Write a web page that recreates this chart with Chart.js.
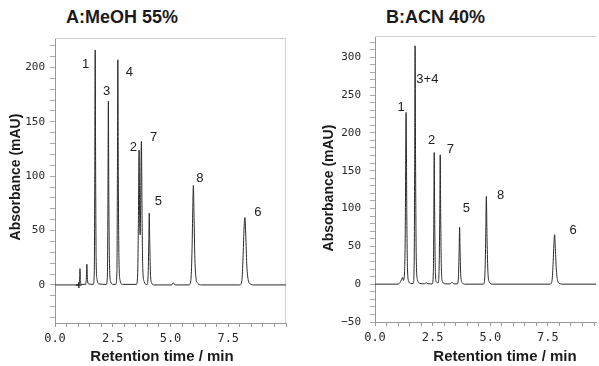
<!DOCTYPE html>
<html>
<head>
<meta charset="utf-8">
<script src="https://cdn.jsdelivr.net/npm/chart.js@4"></script>
<style>
  body { margin: 0; width: 599px; height: 366px; overflow: hidden; background: #fff; position: relative; }
  canvas { position: absolute; top: 0; }
  .ttl { position: absolute; top: 8px; font: bold 18px "Liberation Sans", Arial, sans-serif; line-height: 18px; color: #1a1a1a; white-space: nowrap; }
</style>
</head>
<body>
<div class="ttl" style="left:66px">A:MeOH 55%</div>
<div class="ttl" style="left:386px">B:ACN 40%</div>
<canvas id="chartA" width="300" height="366" style="left:0"></canvas>
<canvas id="chartB" width="299" height="366" style="left:300px"></canvas>
<script>
// A: MeOH 55% trace (retention time in min, absorbance in mAU)
const timeA = [0, 0.9, 1.04, 1.07, 1.08, 1.10, 1.14,
  1.33, 1.36, 1.38, 1.40, 1.45,
  1.66, 1.70, 1.72, 1.74, 1.76, 1.78, 1.82, 1.90,
  2.22, 2.27, 2.29, 2.31, 2.33, 2.36, 2.41, 2.50,
  2.63, 2.68, 2.70, 2.72, 2.74, 2.77, 2.82, 2.92,
  3.52, 3.58, 3.61, 3.64, 3.67, 3.69, 3.71, 3.74, 3.77, 3.80, 3.86, 3.94,
  3.98, 4.03, 4.06, 4.08, 4.10, 4.13, 4.18, 4.28,
  5.05, 5.12, 5.20,
  5.80, 5.88, 5.93, 5.96, 5.99, 6.02, 6.05, 6.10, 6.18, 6.35,
  8.00, 8.09, 8.14, 8.18, 8.22, 8.26, 8.30, 8.36, 8.45, 8.60, 10];
const absA = [0, 0, 0, 8, 15, 4, 0.5,
  0.5, 8, 19, 7, 1,
  0.5, 12, 90, 216, 100, 25, 5, 1,
  0.5, 10, 70, 169, 80, 18, 3, 0.5,
  0.5, 12, 90, 207, 100, 22, 4, 0.5,
  0.5, 10, 60, 124, 52, 46, 80, 132, 60, 15, 3, 0.5,
  0.3, 8, 40, 66, 42, 12, 2, 0,
  0, 2, 0,
  0, 4, 30, 65, 91.5, 62, 28, 7, 1.5, 0,
  0, 4, 25, 50, 62, 45, 20, 5, 1, 0, 0];
const injA = [1.03];

// B: ACN 40% trace
const timeB = [0, 1.0, 1.08, 1.15, 1.20, 1.23, 1.27,
  1.31, 1.35, 1.38, 1.41, 1.46, 1.55,
  1.66, 1.70, 1.72, 1.74, 1.76, 1.79, 1.84, 1.95,
  2.15, 2.22, 2.30,
  2.48, 2.53, 2.55, 2.57, 2.59, 2.62, 2.66,
  2.74, 2.78, 2.81, 2.83, 2.85, 2.88, 2.93, 3.05,
  3.25, 3.34, 3.42,
  3.57, 3.62, 3.65, 3.67, 3.69, 3.72, 3.78, 3.90,
  4.70, 4.76, 4.80, 4.83, 4.86, 4.90, 4.96, 5.10,
  7.60, 7.68, 7.73, 7.76, 7.79, 7.82, 7.86, 7.92, 8.00, 8.15, 9.6];
const absB = [0, 0, 2, 6, 9, 5, 10,
  60, 227, 90, 20, 4, 1,
  1, 30, 150, 315, 160, 35, 6, 1,
  0.5, 2, 0.5,
  0.3, 15, 80, 174, 85, 15, 3,
  2, 20, 90, 171, 90, 20, 3, 0.5,
  0.3, 2.5, 0.5,
  0.3, 10, 45, 75, 45, 12, 2, 0,
  0, 8, 55, 116, 60, 15, 3, 0,
  0, 5, 30, 52, 65.5, 50, 22, 5, 1, 0, 0];

// peak labels
const peakNamesA = ["1", "3", "4", "2", "7", "5", "8", "6"];
const peakTimesA = [1.32, 2.23, 3.22, 3.39, 4.27, 4.48, 6.27, 8.78];
const peakAbsA = [203, 178, 195, 126, 136, 77, 98, 67];

const peakNamesB = ["1", "3+4", "2", "7", "5", "8", "6"];
const peakTimesB = [1.13, 2.27, 2.46, 3.27, 3.96, 5.45, 8.59];
const peakAbsB = [234, 271, 190, 178, 100, 117, 71];

// tick labels
const xTickLabels = [0, 2.5, 5, 7.5];
const yTickLabelsA = [0, 50, 100, 150, 200];
const yTickLabelsB = [-50, 0, 50, 100, 150, 200, 250, 300];

const xTitle = "Retention time / min";
const yTitle = "Absorbance (mAU)";

const boxPlugin = {
  id: "box",
  beforeDatasetsDraw(chart, args, opts) {
    const a = chart.chartArea, ctx = chart.ctx;
    ctx.save();
    ctx.strokeStyle = "#d0d0d0";
    ctx.lineWidth = 1;
    ctx.beginPath();
    ctx.moveTo(a.left, a.top + 0.5);
    ctx.lineTo(a.right, a.top + 0.5);
    if (opts.right) {
      ctx.moveTo(a.right - 0.5, a.top);
      ctx.lineTo(a.right - 0.5, a.bottom);
    }
    ctx.stroke();
    ctx.restore();
  }
};

const peakLabelPlugin = {
  id: "peakLabels",
  afterDatasetsDraw(chart, args, opts) {
    const ctx = chart.ctx, x = chart.scales.x, y = chart.scales.y;
    ctx.save();
    ctx.font = '13px "Liberation Sans", Arial, sans-serif';
    ctx.fillStyle = "#222";
    ctx.textAlign = "center";
    ctx.textBaseline = "middle";
    opts.names.forEach((n, i) => {
      ctx.fillText(n, x.getPixelForValue(opts.times[i]), y.getPixelForValue(opts.abs[i]));
    });
    ctx.restore();
  }
};

// axis titles, placed like the original figure (not centred on the plot)
const axisTitlePlugin = {
  id: "axisTitles",
  afterDraw(chart, args, opts) {
    const ctx = chart.ctx;
    ctx.save();
    ctx.fillStyle = "#1a1a1a";
    ctx.textAlign = "center";
    ctx.textBaseline = "middle";
    ctx.font = 'bold 15px "Liberation Sans", Arial, sans-serif';
    ctx.fillText(xTitle, opts.xt[0], opts.xt[1]);
    ctx.translate(opts.yt[0], opts.yt[1]);
    ctx.rotate(-Math.PI / 2);
    ctx.font = 'bold 14px "Liberation Sans", Arial, sans-serif';
    ctx.fillText(yTitle, 0, 0);
    ctx.restore();
  }
};

function makeChart(id, cfg) {
  const trace = cfg.times.map((t, i) => ({ x: t, y: cfg.abs[i] }));
  const datasets = [{
    type: "line",
    data: trace,
    borderColor: "#2a2a2a",
    borderWidth: 1,
    pointRadius: 0,
    cubicInterpolationMode: "monotone",
    fill: false
  }];
  if (cfg.inj) {
    datasets.push({
      type: "scatter",
      data: cfg.inj.map(t => ({ x: t, y: 0 })),
      pointStyle: "cross",
      pointRadius: 3,
      borderColor: "#333",
      borderWidth: 1.5
    });
  }
  return new Chart(document.getElementById(id), {
    data: { datasets: datasets },
    plugins: [boxPlugin, peakLabelPlugin, axisTitlePlugin],
    options: {
      responsive: false,
      animation: false,
      layout: { padding: { top: cfg.top, right: cfg.right, left: 0, bottom: 0 } },
      plugins: {
        legend: { display: false },
        tooltip: { enabled: false },
        box: { right: cfg.boxRight },
        peakLabels: { names: cfg.names, times: cfg.ptimes, abs: cfg.pabs },
        axisTitles: { xt: cfg.xt, yt: cfg.yt }
      },
      scales: {
        x: {
          type: "linear",
          min: 0,
          max: cfg.xmax,
          afterFit: s => { s.height = cfg.xh; },
          border: { color: "#999" },
          grid: { drawOnChartArea: false, tickLength: 4, tickColor: "#999" },
          ticks: {
            stepSize: 0.5,
            includeBounds: false,
            autoSkip: false,
            maxRotation: 0,
            padding: 5,
            color: "#2a2a2a",
            font: { family: '"DejaVu Sans Mono", monospace', size: 12 },
            callback: v => xTickLabels.includes(v) ? v.toFixed(1) : ""
          }
        },
        y: {
          min: cfg.ymin,
          max: cfg.ymax,
          afterFit: s => { s.width = cfg.yw; },
          border: { color: "#999" },
          grid: { drawOnChartArea: false, tickLength: 5, tickColor: "#aaa" },
          ticks: {
            stepSize: 10,
            includeBounds: false,
            autoSkip: false,
            padding: cfg.ypad,
            color: "#2a2a2a",
            font: { family: '"DejaVu Sans Mono", monospace', size: 11 },
            callback: v => cfg.ylabels.includes(v) ? String(v).replace("-", "\u2212") : ""
          }
        }
      }
    }
  });
}

makeChart("chartA", {
  times: timeA, abs: absA, inj: injA,
  names: peakNamesA, ptimes: peakTimesA, pabs: peakAbsA,
  xmax: 10, ymin: -35, ymax: 227, ylabels: yTickLabelsA,
  top: 38, right: 14, xh: 43, yw: 55, ypad: 5, boxRight: true,
  xt: [162, 357], yt: [16.5, 177]
});

makeChart("chartB", {
  times: timeB, abs: absB, inj: null,
  names: peakNamesB, ptimes: peakTimesB, pabs: peakAbsB,
  xmax: 9.6, ymin: -50, ymax: 328, ylabels: yTickLabelsB,
  top: 36, right: 0, xh: 44, yw: 75, ypad: 9, boxRight: false,
  xt: [205, 357], yt: [28.7, 188]
});
</script>
</body>
</html>
